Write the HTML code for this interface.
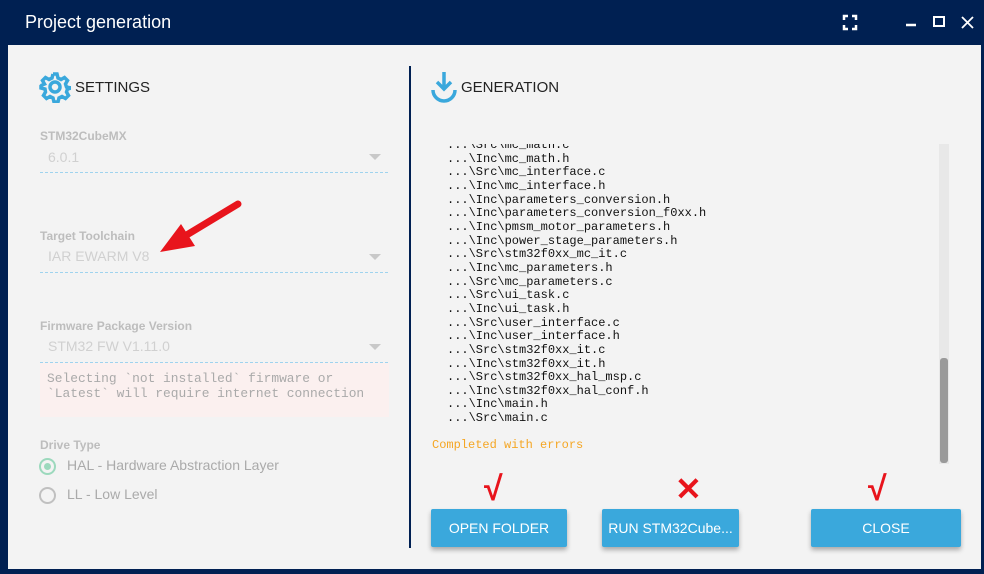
<!DOCTYPE html>
<html><head><meta charset="utf-8"><style>
*{margin:0;padding:0;box-sizing:border-box}
body{width:984px;height:574px;background:#002052;position:relative;overflow:hidden;font-family:"Liberation Sans",sans-serif}
.a{position:absolute}
.body{left:8px;top:45px;width:973px;height:524px;background:#f3f3f3}
.lbl{font-size:12px;font-weight:bold;color:#bdbdbd}
.val{font-size:14px;color:#d0d0d0}
.line{height:0;border-top:1px dashed #9fd3ee}
.tri{width:0;height:0;border-left:6px solid transparent;border-right:6px solid transparent;border-top:6px solid #c8c8c8}
.code{font-family:"Liberation Mono",monospace;font-size:12px;line-height:13.65px;color:#111;white-space:pre}
.btn{background:#3aa8dc;color:#fff;font-size:14px;text-align:center;line-height:38px;height:38px;border-radius:2px;box-shadow:0 3px 5px rgba(0,0,0,.3)}
.mark{color:#e8141c;font-weight:bold;font-size:34px}
</style></head><body>
<div class="a" style="left:25px;top:12px;color:#fff;font-size:18px">Project generation</div>
<svg class="a" style="left:840px;top:12px" width="140" height="22">
<g stroke="#fff" stroke-width="2.5" fill="none">
<path d="M4 8V4h4M12 4h4v4M16 13v4h-4M8 17H4v-4"/>
<path d="M66 13h10"/>
<rect x="94" y="5" width="10" height="9" stroke-width="2"/>
<path d="M122 5l11 11M133 5l-11 11" stroke-width="1.8"/>
</g></svg>
<div class="a body"></div>
<div class="a" style="left:409px;top:66px;width:2px;height:482px;background:#002052"></div>
<svg class="a" style="left:39px;top:71px" width="32" height="32" viewBox="0 0 32 32">
<g fill="none" stroke="#3aa8dc" stroke-width="3.5"><circle cx="16" cy="16" r="5"/>
<path d="M14 3h4l1 4 3 1.5 3.5-2 3 3-2 3.5L27.5 16l4 1v-2M14 3l-1 4-3 1.5-3.5-2-3 3 2 3.5L3 14l-1 1v2l4 1 .5 3-2 3.5 3 3 3.5-2 3 1.5 1 4h4l1-4 3-1.5 3.5 2 3-3-2-3.5 1-3 4-1"/></g></svg>
<div class="a" style="left:75px;top:79px;font-size:15px;color:#222">SETTINGS</div>

<div class="a lbl" style="left:40px;top:129px">STM32CubeMX</div>
<div class="a val" style="left:48px;top:149px">6.0.1</div>
<div class="a tri" style="left:369px;top:154px"></div>
<div class="a line" style="left:40px;top:172px;width:348px"></div>

<div class="a lbl" style="left:40px;top:229px">Target Toolchain</div>
<div class="a val" style="left:48px;top:248px">IAR EWARM V8</div>
<div class="a tri" style="left:369px;top:254px"></div>
<div class="a line" style="left:40px;top:272px;width:348px"></div>

<div class="a lbl" style="left:40px;top:319px">Firmware Package Version</div>
<div class="a val" style="left:48px;top:338px">STM32 FW V1.11.0</div>
<div class="a tri" style="left:369px;top:344px"></div>
<div class="a line" style="left:40px;top:362px;width:348px"></div>
<div class="a" style="left:40px;top:363px;width:349px;height:54px;background:#fbf0ef"></div>
<div class="a code" style="left:47px;top:371px;color:#aaa;font-size:12.9px;line-height:15px">Selecting `not installed` firmware or
`Latest` will require internet connection</div>

<div class="a lbl" style="left:40px;top:438px">Drive Type</div>
<div class="a" style="left:39px;top:458px;width:17px;height:17px;border:2px solid #9cd9bd;border-radius:50%"></div>
<div class="a" style="left:44px;top:463px;width:7px;height:7px;background:#9cd9bd;border-radius:50%"></div>
<div class="a" style="left:67px;top:457px;font-size:14px;color:#aaa">HAL - Hardware Abstraction Layer</div>
<div class="a" style="left:39px;top:487px;width:17px;height:17px;border:2px solid #c0c0c0;border-radius:50%"></div>
<div class="a" style="left:67px;top:486px;font-size:14px;color:#aaa">LL - Low Level</div>

<svg class="a" style="left:150px;top:195px" width="100" height="70">
<path d="M88 9L30 44" stroke="#e8141c" stroke-width="7" stroke-linecap="round"/>
<path d="M10 57L31 29L45 51Z" fill="#e8141c"/></svg>

<svg class="a" style="left:430px;top:70px" width="28" height="34">
<g fill="none" stroke="#3aa8dc" stroke-width="3.5"><path d="M14 2v16M7 12l7 7 7-7"/><path d="M3 20a11 11 0 0 0 22 0"/></g></svg>
<div class="a" style="left:461px;top:79px;font-size:15px;color:#222">GENERATION</div>

<div class="a code" style="left:447px;top:139px">...\Src\mc_math.c
...\Inc\mc_math.h
...\Src\mc_interface.c
...\Inc\mc_interface.h
...\Inc\parameters_conversion.h
...\Inc\parameters_conversion_f0xx.h
...\Inc\pmsm_motor_parameters.h
...\Inc\power_stage_parameters.h
...\Src\stm32f0xx_mc_it.c
...\Inc\mc_parameters.h
...\Src\mc_parameters.c
...\Src\ui_task.c
...\Inc\ui_task.h
...\Src\user_interface.c
...\Inc\user_interface.h
...\Src\stm32f0xx_it.c
...\Inc\stm32f0xx_it.h
...\Src\stm32f0xx_hal_msp.c
...\Inc\stm32f0xx_hal_conf.h
...\Inc\main.h
...\Src\main.c</div>
<div class="a" style="left:430px;top:136px;width:505px;height:8px;background:#f3f3f3"></div>
<div class="a code" style="left:432px;top:439px;color:#f5a623">Completed with errors</div>
<div class="a" style="left:939px;top:144px;width:10px;height:320px;background:#e8e8e8"></div>
<div class="a" style="left:940px;top:358px;width:8px;height:105px;background:#9a9a9a;border-radius:3px"></div>

<div class="a btn" style="left:431px;top:509px;width:136px">OPEN FOLDER</div>
<div class="a btn" style="left:602px;top:509px;width:137px">RUN STM32Cube...</div>
<div class="a btn" style="left:811px;top:509px;width:150px">CLOSE</div>
<div class="a mark" style="left:484px;top:470px">√</div>
<div class="a mark" style="left:675px;top:470px;font-size:32px">✕</div>
<div class="a mark" style="left:868px;top:470px">√</div>
</body></html>
